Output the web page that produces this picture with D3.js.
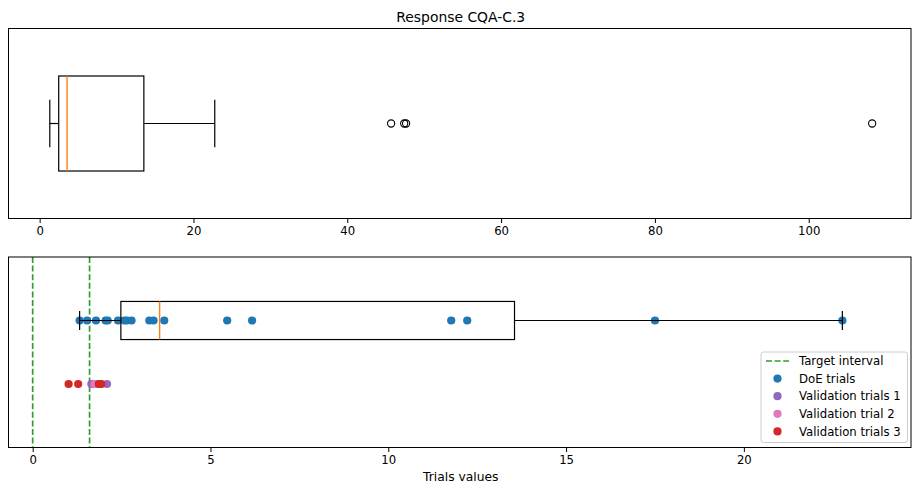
<!DOCTYPE html>
<html>
<head>
<meta charset="utf-8">
<script src="https://cdn.jsdelivr.net/npm/d3@7"></script>
<style>
  body { margin: 0; background: #fff; }
  text { font-family: "DejaVu Sans", sans-serif; fill: #000; }
</style>
</head>
<body>
<script>
// values
const doeTrials = [1.32, 1.53, 1.78, 2.05, 2.11, 2.40, 2.58, 2.65, 2.78, 3.28, 3.40, 3.70,
  5.47, 6.17, 11.77, 12.22, 17.50, 22.77, 45.7, 47.4, 47.65, 108.25];
const boxStats = [1.32, 2.48, 3.57, 13.55, 22.77]; // whisker low, q1, median, q3, whisker high
const targetInterval = [0, 1.6];
const validation1 = [1.65, 1.90, 2.09];
const validation2 = [1.74, 1.80];
const validation3 = [1.01, 1.28, 1.86, 1.93];
const topTicks = [0, 20, 40, 60, 80, 100];
const bottomTicks = [0, 5, 10, 15, 20];
const legendLabels = ["Target interval", "DoE trials", "Validation trials 1", "Validation trial 2", "Validation trials 3"];

const colors = {
  doe: "#1f77b4", v1: "#9467bd", v2: "#e377c2", v3: "#d62728",
  target: "#2ca02c", median: "#ff7f0e"
};

const width = 912, height = 488;
const left = 8.5, right = 911;
const fontSize = 11.7;

const svg = d3.select("body").append("svg")
  .attr("width", width)
  .attr("height", height);

svg.append("text")
  .attr("x", (left + right) / 2 + 1)
  .attr("y", 22)
  .attr("text-anchor", "middle")
  .style("font-size", "13.9px")
  .text("Response CQA-C.3");

function drawAxis(g, x, ticks, bottom) {
  const axis = g.append("g")
    .attr("transform", `translate(0,${bottom})`)
    .call(d3.axisBottom(x).tickValues(ticks).tickSize(4.5).tickPadding(3.5).tickFormat(d3.format("d")));
  axis.select(".domain").remove();
  axis.selectAll("line").attr("stroke", "#000").attr("stroke-width", 1);
  axis.selectAll("text").style("font-size", fontSize + "px").attr("font-family", "DejaVu Sans");
}

function drawBox(g, x, yc, h) {
  const [lo, q1, med, q3, hi] = boxStats;
  const cap = h / 2;
  const box = g.append("g").attr("fill", "none").attr("stroke", "#000").attr("stroke-width", 1.2);
  box.append("rect")
    .attr("x", x(q1)).attr("y", yc - h / 2)
    .attr("width", x(q3) - x(q1)).attr("height", h);
  box.append("line").attr("x1", x(lo)).attr("x2", x(q1)).attr("y1", yc).attr("y2", yc);
  box.append("line").attr("x1", x(q3)).attr("x2", x(hi)).attr("y1", yc).attr("y2", yc);
  [lo, hi].forEach(v => {
    box.append("line").attr("x1", x(v)).attr("x2", x(v))
      .attr("y1", yc - cap / 2).attr("y2", yc + cap / 2);
  });
  box.append("line")
    .attr("x1", x(med)).attr("x2", x(med))
    .attr("y1", yc - h / 2).attr("y2", yc + h / 2)
    .attr("stroke", colors.median).attr("stroke-width", 1.4);
}

// ---- top panel: full boxplot with fliers
const top1 = 28.5, bot1 = 218.5;
const x1 = d3.scaleLinear().domain([-4.05, 113.3]).range([left, right]);
const y1 = d3.scaleLinear().domain([0.5, 1.5]).range([bot1, top1]);
const g1 = svg.append("g");

drawBox(g1, x1, y1(1), y1(0.75) - y1(1.25));

const fliers = doeTrials.filter(v => v > boxStats[4] || v < boxStats[0]);
g1.selectAll("circle.flier").data(fliers).join("circle")
  .attr("class", "flier")
  .attr("cx", d => x1(d)).attr("cy", y1(1)).attr("r", 3.6)
  .attr("fill", "none").attr("stroke", "#000").attr("stroke-width", 1.1);

g1.append("rect")
  .attr("x", left).attr("y", top1).attr("width", right - left).attr("height", bot1 - top1)
  .attr("fill", "none").attr("stroke", "#000").attr("stroke-width", 1);
drawAxis(g1, x1, topTicks, bot1);

// ---- bottom panel: zoomed with trial points
const top2 = 257, bot2 = 447.5;
const x2 = d3.scaleLinear().domain([-0.68, 24.7]).range([left, right]);
const y2 = d3.scaleLinear().domain([0, 1.5]).range([bot2, top2]);
const g2 = svg.append("g");

svg.append("clipPath").attr("id", "clip2").append("rect")
  .attr("x", left).attr("y", top2).attr("width", right - left).attr("height", bot2 - top2);

const plot2 = g2.append("g").attr("clip-path", "url(#clip2)");

plot2.selectAll("line.target").data(targetInterval).join("line")
  .attr("class", "target")
  .attr("x1", d => x2(d)).attr("x2", d => x2(d))
  .attr("y1", top2).attr("y2", bot2)
  .attr("stroke", colors.target).attr("stroke-width", 1.7)
  .attr("stroke-dasharray", "6,2.6");

const series = [
  { values: doeTrials, y: 1, color: colors.doe },
  { values: validation1, y: 0.5, color: colors.v1 },
  { values: validation2, y: 0.5, color: colors.v2 },
  { values: validation3, y: 0.5, color: colors.v3 }
];
series.forEach(s => {
  plot2.append("g").selectAll("circle").data(s.values).join("circle")
    .attr("cx", d => x2(d)).attr("cy", y2(s.y)).attr("r", 4.1)
    .attr("fill", s.color);
});

drawBox(plot2, x2, y2(1), y2(0.85) - y2(1.15));

g2.append("rect")
  .attr("x", left).attr("y", top2).attr("width", right - left).attr("height", bot2 - top2)
  .attr("fill", "none").attr("stroke", "#000").attr("stroke-width", 1);
drawAxis(g2, x2, bottomTicks, bot2);

svg.append("text")
  .attr("x", (left + right) / 2 + 1)
  .attr("y", 481)
  .attr("text-anchor", "middle")
  .style("font-size", "12.3px")
  .text("Trials values");

// ---- legend
const lg = svg.append("g").attr("transform", "translate(761,352)");
lg.append("rect")
  .attr("width", 146.5).attr("height", 90.5).attr("rx", 2.5)
  .attr("fill", "#fff").attr("fill-opacity", 0.8)
  .attr("stroke", "#ccc").attr("stroke-width", 1);

const legendColors = [colors.target, colors.doe, colors.v1, colors.v2, colors.v3];
legendLabels.forEach((label, i) => {
  const yy = 9 + i * 17.6;
  if (i === 0) {
    lg.append("line")
      .attr("x1", 5).attr("x2", 28).attr("y1", yy).attr("y2", yy)
      .attr("stroke", legendColors[i]).attr("stroke-width", 1.7)
      .attr("stroke-dasharray", "6,2.6");
  } else {
    lg.append("circle").attr("cx", 16.5).attr("cy", yy).attr("r", 4.1).attr("fill", legendColors[i]);
  }
  lg.append("text")
    .attr("x", 38).attr("y", yy + 4.2)
    .style("font-size", fontSize + "px")
    .text(label);
});
</script>
</body>
</html>
